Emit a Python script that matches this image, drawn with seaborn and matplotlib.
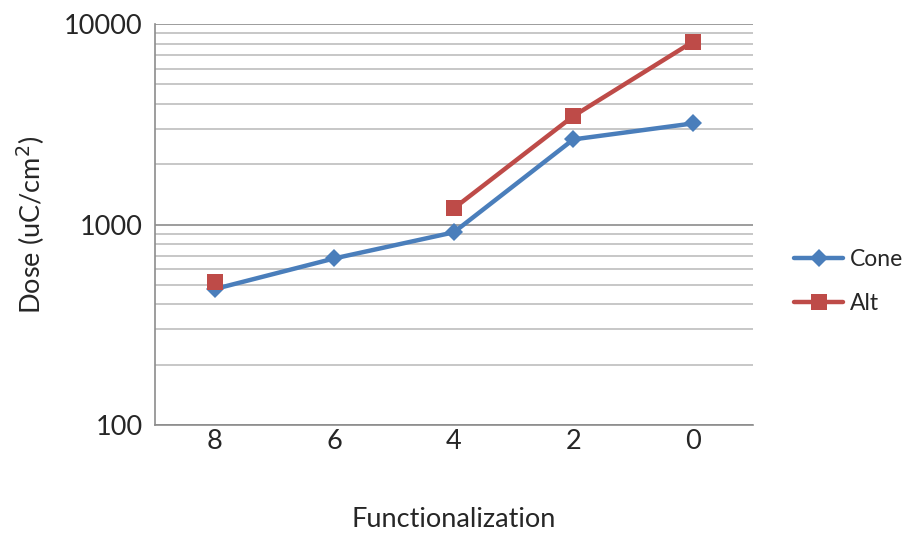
import numpy as np
import pandas as pd
import matplotlib
matplotlib.use("Agg")
import matplotlib.pyplot as plt
import seaborn as sns
from matplotlib.ticker import FixedLocator, NullFormatter, LogLocator

categories = ["8", "6", "4", "2", "0"]
cone = [477, 678, 915, 2660, 3196]
alt = [517, np.nan, 1205, 3478, 8163]

sns.set_style("white")
plt.rcParams['font.family'] = ['Lato', 'DejaVu Sans']
FS = 19.5

fig = plt.figure(figsize=(9.09, 5.36), dpi=100)
ax = fig.add_axes([0.1705, 0.207, 0.6575, 0.748])

pos = np.arange(len(categories))
df = pd.DataFrame({"pos": pos, "Cone": cone, "Alt": alt})

sns.lineplot(data=df, x="pos", y="Cone", ax=ax, color="#4A7EBB", lw=3.2,
             marker="D", markersize=9, markeredgewidth=0, label="Cone")
# Alt has a gap at 6, draw it in runs so the gap is kept
runs = df["Alt"].isna().cumsum()
first = True
for _, seg in df[df["Alt"].notna()].groupby(runs[df["Alt"].notna()]):
    sns.lineplot(data=seg, x="pos", y="Alt", ax=ax, color="#BE4B48", lw=3.2,
                 marker="s", markersize=12, markeredgewidth=0,
                 label="Alt" if first else None)
    first = False

ax.set_yscale("log")
ax.set_ylim(100, 10000)
ax.set_xlim(-0.5, len(categories) - 0.5)
ax.yaxis.set_minor_locator(LogLocator(base=10, subs=np.arange(2, 10), numticks=20))
ax.yaxis.set_minor_formatter(NullFormatter())
ax.set_yticks([100, 1000, 10000])
ax.set_yticklabels(["100", "1000", "10000"])
ax.set_xticks(pos)
ax.set_xticklabels(categories)
ax.xaxis.set_minor_locator(FixedLocator(np.arange(-0.5, len(categories), 1)))

ax.grid(True, which="major", axis="y", color="#8c8c8c", lw=1.2)
ax.grid(True, which="minor", axis="y", color="#bdbdbd", lw=1.2)
ax.set_axisbelow(True)

for s in ["top", "right"]:
    ax.spines[s].set_visible(False)
for s in ["left", "bottom"]:
    ax.spines[s].set_color("#8c8c8c")
    ax.spines[s].set_linewidth(1.2)

ax.tick_params(axis="x", which="major", length=0, labelsize=FS, pad=3)
ax.tick_params(axis="x", which="minor", direction="out", length=6, color="#8c8c8c", width=1.2)
ax.tick_params(axis="y", which="major", direction="inout", length=10, color="#8c8c8c", width=1.2,
               labelsize=FS, pad=4)
ax.tick_params(axis="y", which="minor", direction="out", length=4, color="#8c8c8c", width=1.2)

ax.set_xlabel("Functionalization", fontsize=FS, labelpad=38)
ax.set_ylabel("Dose (uC/cm$^2$)", fontsize=FS, labelpad=12)

ax.legend(loc="center left", bbox_to_anchor=(1.07, 0.357), frameon=False, fontsize=16.5,
          handlelength=2.1, labelspacing=1.0, handletextpad=0.3,
          borderpad=0, borderaxespad=0)

fig.savefig("out.png", dpi=100)
